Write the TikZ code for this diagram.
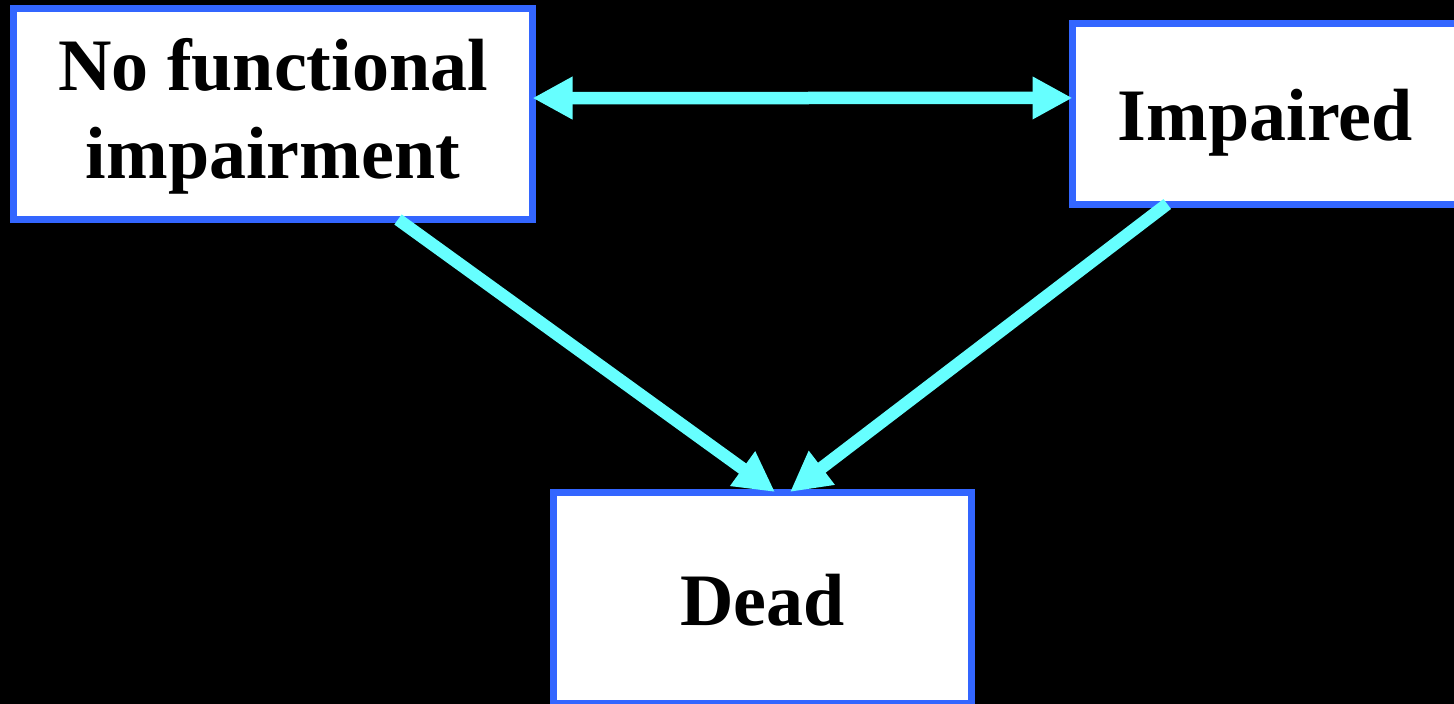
\documentclass[tikz,border=0pt]{standalone}
\usepackage{fontspec}
\setmainfont{Liberation Serif}
\usetikzlibrary{arrows.meta}
\definecolor{boxblue}{RGB}{51,102,255}
\definecolor{arrcyan}{RGB}{102,255,255}
\tikzset{
  statebox/.style={draw=boxblue, fill=white, line width=7pt, outer sep=0pt, inner sep=0pt,
    align=center, font=\fontsize{74}{88}\selectfont\bfseries},
  flow/.style={draw=arrcyan, line width=12.5pt, -{Triangle[length=40pt,width=40pt]}},
  flowboth/.style={draw=arrcyan, line width=12.5pt,
    {Triangle[length=40pt,width=40pt]}-{Triangle[length=40pt,width=40pt]}}
}
\begin{document}
\begin{tikzpicture}[x=1pt,y=-1pt]
  \useasboundingbox (0,0) rectangle (1454,704);
  \fill[black] (0,0) rectangle (1454,704);
  \clip (0,0) rectangle (1454,704);
  \node[statebox, minimum width=519pt, minimum height=211.5pt] (nofi) at (273,113.75)
    {\rule{0pt}{57pt}No functional\\impairment};
  \node[statebox, minimum width=385.5pt, minimum height=180.7pt, text height=60pt, text depth=7.3pt]
    (imp) at (1265.25,113.65) {Impaired};
  \node[statebox, minimum width=417.5pt, minimum height=211pt, text height=60pt, text depth=5pt]
    (dead) at (762.25,597.5) {Dead};
  \draw[flowboth] ([yshift=15.7pt]nofi.east) -- ([yshift=15.7pt]imp.west);
  \draw[flow] ([xshift=125pt]nofi.south) -- ([xshift=12.75pt]dead.north);
  \draw[flow] ([xshift=-98pt]imp.south) -- ([xshift=27.75pt]dead.north);
\end{tikzpicture}
\end{document}
